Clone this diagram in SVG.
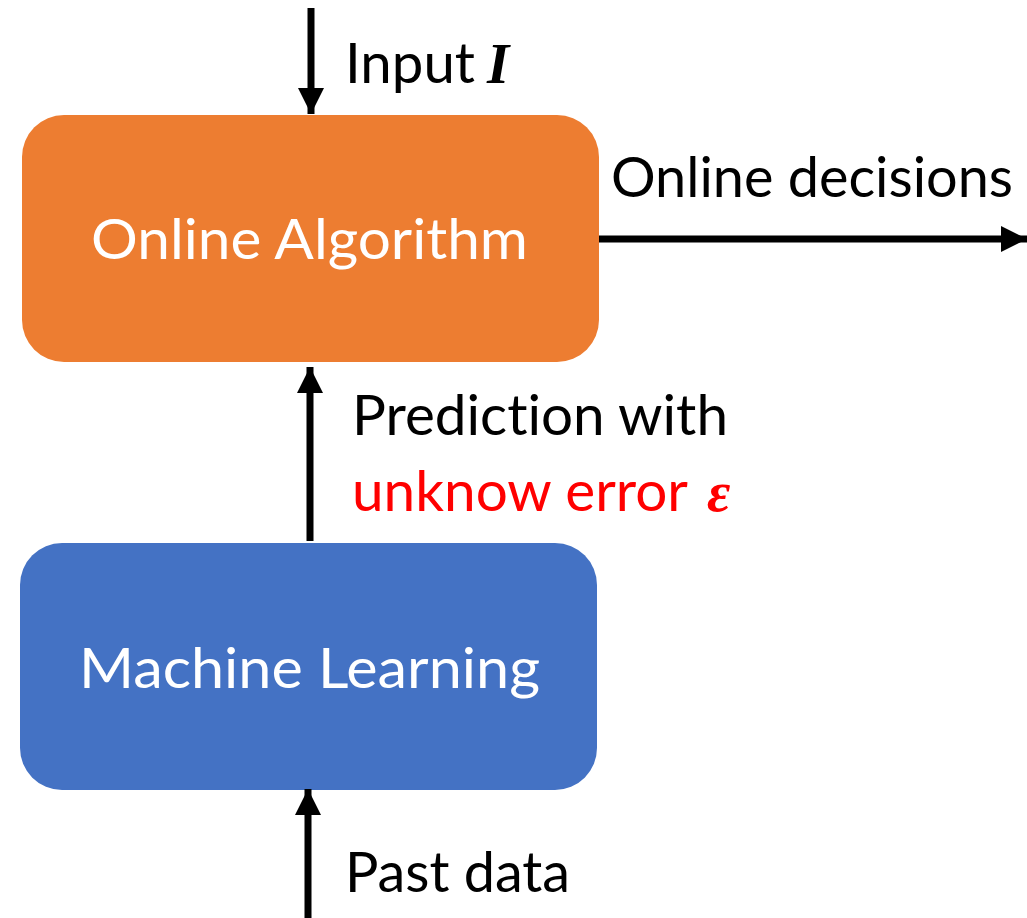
<svg xmlns="http://www.w3.org/2000/svg" width="1027" height="918" viewBox="0 0 1027 918">
<style>
.t{font-family:Lato,"Open Sans","Liberation Sans",sans-serif;font-size:57px;fill:#000;font-variant-ligatures:none;font-feature-settings:"liga" 0,"dlig" 0}
.w{fill:#fff}
.r{fill:#ff0000}
.m{font-family:"Liberation Serif","DejaVu Serif",serif;font-style:italic;font-weight:bold}
.ln{stroke:#000;stroke-width:7;fill:none}
</style>
<defs>
<marker id="ah" markerUnits="userSpaceOnUse" markerWidth="26" markerHeight="26" viewBox="0 0 24 24" refX="24" refY="12" orient="auto">
<path d="M0,0 L24,12 L0,24 Z" fill="#000"/>
</marker>
</defs>
<rect width="1027" height="918" fill="#fff"/>
<g id="online-algorithm">
<rect x="22" y="115" width="577" height="247" rx="42" ry="42" fill="#ED7D31"/>
<text class="t w" x="91" y="259" textLength="437" lengthAdjust="spacingAndGlyphs">Online Algorithm</text>
</g>
<g id="machine-learning">
<rect x="20" y="543" width="577" height="247" rx="42" ry="42" fill="#4472C4"/>
<text class="t w" x="79" y="688" textLength="461" lengthAdjust="spacingAndGlyphs">Machine Learning</text>
</g>
<g id="connectors">
<line class="ln" x1="311" y1="8" x2="311" y2="114" marker-end="url(#ah)"/>
<line class="ln" x1="599" y1="239" x2="1027" y2="239" marker-end="url(#ah)"/>
<line class="ln" x1="310" y1="541" x2="310" y2="367" marker-end="url(#ah)"/>
<line class="ln" x1="308" y1="918" x2="308" y2="789" marker-end="url(#ah)"/>
</g>
<g id="labels">
<text class="t" x="345" y="83" textLength="130" lengthAdjust="spacingAndGlyphs">Input</text>
<text class="t m" x="487" y="83" font-size="60">I</text>
<text class="t" x="611" y="197" textLength="402" lengthAdjust="spacingAndGlyphs">Online decisions</text>
<text class="t" x="352" y="435" textLength="376" lengthAdjust="spacingAndGlyphs">Prediction with</text>
<text class="t r" x="352" y="511" textLength="336" lengthAdjust="spacingAndGlyphs">unknow error</text>
<text class="t r m" x="707" y="511" font-size="60">ε</text>
<text class="t" x="345" y="892" textLength="225" lengthAdjust="spacingAndGlyphs">Past data</text>
</g>
</svg>
